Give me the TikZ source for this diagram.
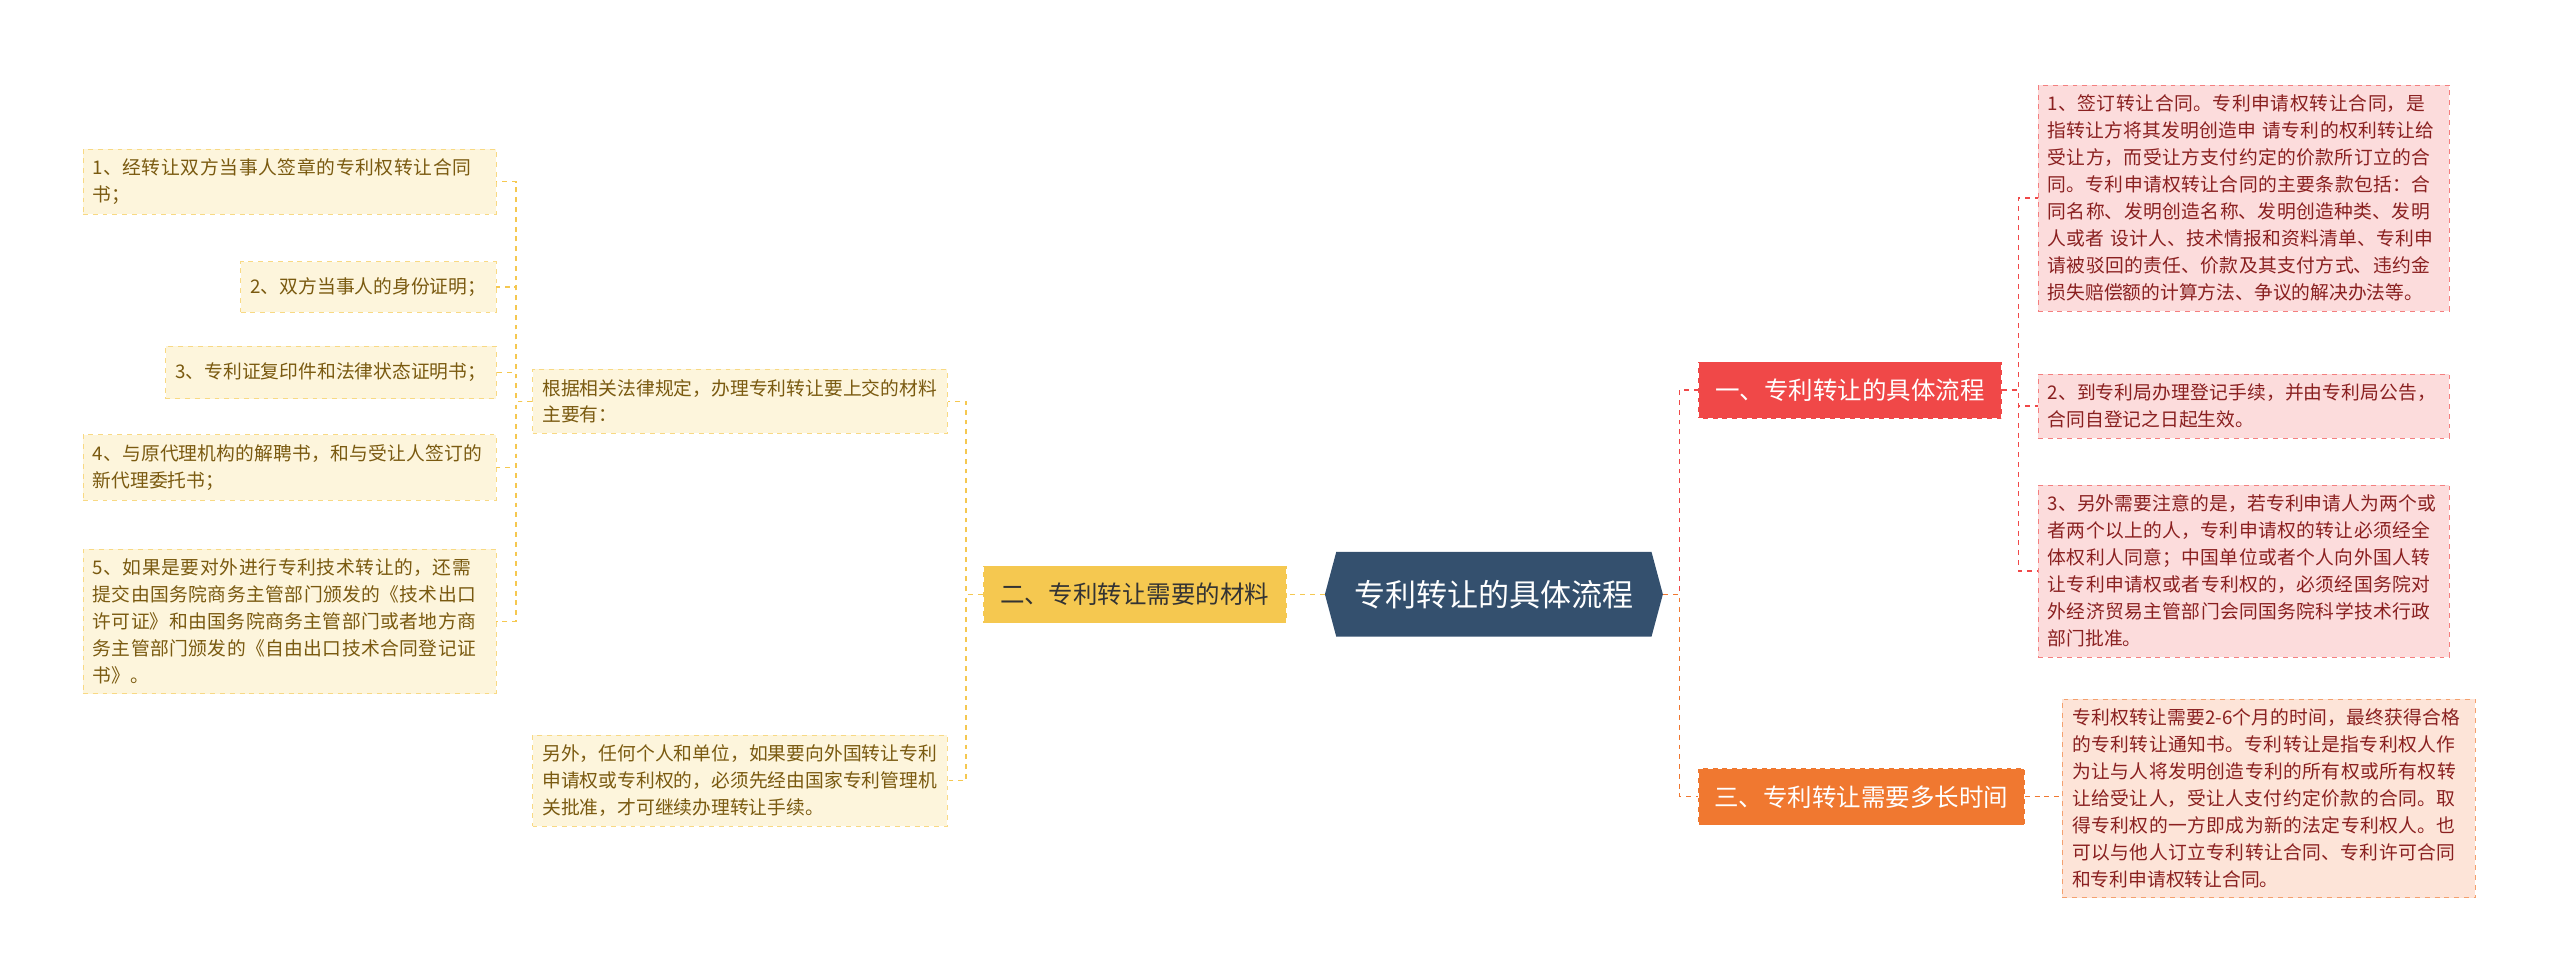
\documentclass[tikz,border=0pt]{standalone}
\usepackage{fontspec}
\setmainfont{Noto Sans CJK SC}
\XeTeXlinebreaklocale "zh"
\XeTeXlinebreakskip=0pt plus 1pt
\usetikzlibrary{positioning, shapes.symbols, calc}
\definecolor{rootBlue}{HTML}{34506E}
\definecolor{redMain}{HTML}{F04848}
\definecolor{orangeMain}{HTML}{F07830}
\definecolor{yellowMain}{HTML}{F5C850}
\definecolor{pinkLeaf}{HTML}{FCDCDC}
\definecolor{peachLeaf}{HTML}{FDE4D8}
\definecolor{creamLeaf}{HTML}{FDF5DC}
\definecolor{redText}{HTML}{8A2020}
\definecolor{brownText}{HTML}{7A5A10}
\tikzset{
  leaf/.style={draw=#1!70!white, dashed, line width=0.4pt, inner xsep=6pt, inner ysep=6pt,
    align=left, font=\fontsize{11.5}{16.5}\selectfont},
  branch/.style={draw=white, dashed, inner xsep=8pt, minimum height=35pt, font=\fontsize{15}{18}\selectfont},
  link/.style={dashed, line width=0.9pt, #1}
}
\begin{document}
\begin{tikzpicture}[x=1pt, y=-1pt]
\useasboundingbox (0,0) rectangle (1568,600);

\node (root) [signal, signal to=east and west, signal pointer angle=150, fill=rootBlue, text=white,
  minimum width=207pt, minimum height=52pt, font=\fontsize{19}{22}\selectfont] at (915,364) {专利转让的具体流程};

\node (flow) [branch, fill=redMain, text=white, minimum width=186pt] at (1133,239) {一、专利转让的具体流程};
\node (time) [branch, fill=orangeMain, text=white, minimum width=200pt] at (1140,488) {三、专利转让需要多长时间};
\node (mat) [branch, fill=yellowMain, text=black!80, minimum width=186pt] at (695,364) {二、专利转让需要的材料};

% right side leaves
\node (flowA) [leaf=redMain, fill=pinkLeaf, text=redText, text width=240pt, anchor=north west] at (1248,52)
  {1、签订转让合同。专利申请权转让合同，是指转让方将其发明创造申 请专利的权利转让给受让方，而受让方支付约定的价款所订立的合同。专利申请权转让合同的主要条款包括：合同名称、发明创造名称、发明创造种类、发明人或者 设计人、技术情报和资料清单、专利申请被驳回的责任、价款及其支付方式、违约金损失赔偿额的计算方法、争议的解决办法等。};
\node (flowB) [leaf=redMain, fill=pinkLeaf, text=redText, text width=240pt, anchor=north west] at (1248,229)
  {2、到专利局办理登记手续，并由专利局公告，合同自登记之日起生效。};
\node (flowC) [leaf=redMain, fill=pinkLeaf, text=redText, text width=240pt, anchor=north west] at (1248,297)
  {3、另外需要注意的是，若专利申请人为两个或者两个以上的人，专利申请权的转让必须经全体权利人同意；中国单位或者个人向外国人转让专利申请权或者专利权的，必须经国务院对外经济贸易主管部门会同国务院科学技术行政部门批准。};
\node (timeA) [leaf=orangeMain, fill=peachLeaf, text=redText, text width=241pt, anchor=north west] at (1263,428)
  {专利权转让需要2-6个月的时间，最终获得合格的专利转让通知书。专利转让是指专利权人作为让与人将发明创造专利的所有权或所有权转让给受让人，受让人支付约定价款的合同。取得专利权的一方即成为新的法定专利权人。也可以与他人订立专利转让合同、专利许可合同和专利申请权转让合同。};

% left side
\node (matA) [leaf=yellowMain, fill=creamLeaf, text=brownText, text width=242pt, anchor=north west] at (326,226)
  {根据相关法律规定，办理专利转让要上交的材料主要有：};
\node (matB) [leaf=yellowMain, fill=creamLeaf, text=brownText, text width=242pt, anchor=north west] at (326,450)
  {另外，任何个人和单位，如果要向外国转让专利申请权或专利权的，必须先经由国家专利管理机关批准，才可继续办理转让手续。};

\node (docA) [leaf=yellowMain, fill=creamLeaf, text=brownText, text width=241pt, anchor=north east] at (304,91)
  {1、经转让双方当事人签章的专利权转让合同书；};
\node (docB) [leaf=yellowMain, fill=creamLeaf, text=brownText, anchor=north east, minimum height=31pt] at (304,160)
  {2、双方当事人的身份证明；};
\node (docC) [leaf=yellowMain, fill=creamLeaf, text=brownText, anchor=north east, minimum height=32pt] at (304,212)
  {3、专利证复印件和法律状态证明书；};
\node (docD) [leaf=yellowMain, fill=creamLeaf, text=brownText, text width=241pt, anchor=north east] at (304,266)
  {4、与原代理机构的解聘书，和与受让人签订的新代理委托书；};
\node (docE) [leaf=yellowMain, fill=creamLeaf, text=brownText, text width=241pt, anchor=north east] at (304,336)
  {5、如果是要对外进行专利技术转让的，还需提交由国务院商务主管部门颁发的《技术出口许可证》和由国务院商务主管部门或者地方商务主管部门颁发的《自由出口技术合同登记证书》。};

% connectors
\draw[link=redMain] (root.east) -- ++(10,0) |- (flow.west);
\draw[link=orangeMain] (root.east) -- ++(10,0) |- (time.west);
\draw[link=yellowMain] (root.west) -- (mat.east);
\foreach \n in {flowA, flowB, flowC}
  \draw[link=redMain] (flow.east) -- ++(10,0) |- (\n.west);
\draw[link=orangeMain] (time.east) -- (time.east -| timeA.west);
\foreach \n in {matA, matB}
  \draw[link=yellowMain] (mat.west) -- ++(-10,0) |- (\n.east);
\foreach \n in {docA, docB, docC, docD, docE}
  \draw[link=yellowMain] (matA.west) -- ++(-10,0) |- (\n.east);
\end{tikzpicture}
\end{document}
